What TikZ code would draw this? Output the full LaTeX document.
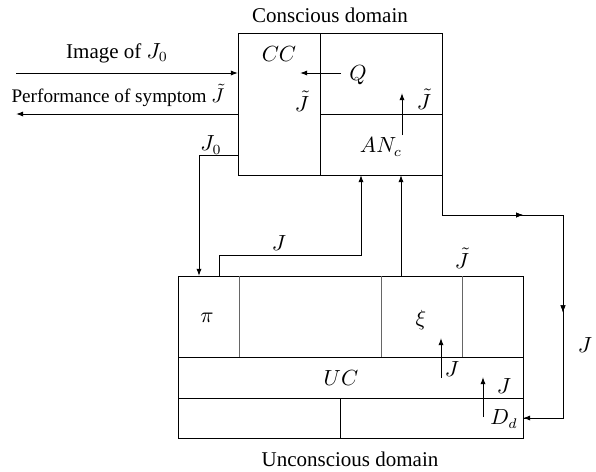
\documentclass[tikz,border=0pt]{standalone}
\usepackage{fontspec}
\setmainfont{Liberation Serif}
\usetikzlibrary{arrows.meta,decorations.markings}
\begin{document}
\begin{tikzpicture}[x=0.5pt,y=-0.5pt,
  line width=0.5pt,
  font=\fontsize{10.5}{12}\selectfont,
  tip/.style={-{Latex[length=3.6pt,width=2.6pt]}},
  midtip/.style={postaction={decorate},decoration={markings,
     mark=at position #1 with {\arrow{Latex[length=3.6pt,width=2.6pt]}}}},
  divider/.style={draw=black!60},
  lbl/.style={inner sep=1pt}]
\useasboundingbox (0,0) rectangle (596,472);

% conscious domain box
\coordinate (cTL) at (238,33);
\coordinate (cBR) at (442,175);
\draw (cTL) rectangle (cBR);
\draw (320,33) -- (320,175);
\draw (320,114) -- (442,114);

% unconscious domain box
\coordinate (uTL) at (178,276);
\coordinate (uBR) at (523,438);
\draw (uTL) rectangle (uBR);
\draw (178,357) -- (523,357);
\draw (178,398) -- (523,398);
\draw[divider] (239,276) -- (239,357);
\draw[divider] (381,276) -- (381,357);
\draw[divider] (462,276) -- (462,357);
\draw (340,398) -- (340,438);

% titles
\node[lbl] (tc) at (330,15) {Conscious domain};
\node[lbl] (tu) at (350,459) {Unconscious domain};

% external arrows
\coordinate (imgS) at (16,73);
\coordinate (imgE) at (238,73);
\draw[tip] (imgS) -- (imgE);
\node[lbl] (limg) at (117,53) {Image of $J_0$};
\coordinate (perfS) at (238,114);
\coordinate (perfE) at (16,114);
\draw[tip] (perfS) -- (perfE);
\node[lbl,font=\fontsize{9.6}{11}\selectfont] (lperf) at (118,95) {Performance of symptom $\tilde{J}$};

% J0 from conscious to pi
\coordinate (j0a) at (238,155);
\coordinate (j0b) at (199,155);
\coordinate (j0c) at (199,276);
\draw[tip] (j0a) -- (j0b) -- (j0c);
\node[lbl] (lj0) at (211,145) {$J_0$};

% inside conscious box
\node[lbl] (cc) at (279,54) {$CC$};
\node[lbl] (jt1) at (302,101) {$\tilde{J}$};
\node[lbl] (q) at (358,75) {$Q$};
\coordinate (qS) at (341,73);
\coordinate (qE) at (300,73);
\draw[tip] (qS) -- (qE);
\node[lbl] (jt2) at (424,99) {$\tilde{J}$};
\coordinate (anS) at (402,135);
\coordinate (anE) at (402,93);
\draw[tip] (anS) -- (anE);
\node[lbl] (anc) at (381,147) {$AN_c$};

% J from pi up to AN_c
\coordinate (jA) at (219,276);
\coordinate (jB) at (219,255);
\coordinate (jC) at (361,255);
\coordinate (jD) at (361,175);
\draw[tip] (jA) -- (jB) -- (jC) -- (jD);
\node[lbl] (lj) at (279,243) {$J$};

% J tilde from xi up to AN_c
\coordinate (xA) at (401,276);
\coordinate (xB) at (401,175);
\draw[tip] (xA) -- (xB);
\node[lbl] (jt3) at (462,258) {$\tilde{J}$};

% loop on the right down to D_d
\coordinate (rA) at (442,175);
\coordinate (rB) at (442,215);
\coordinate (rC) at (563,215);
\coordinate (rD) at (563,418);
\coordinate (rE) at (523,418);
\draw[midtip=0.30,midtip=0.64] (rA) -- (rB) -- (rC) -- (rD) -- (rE);
\draw[tip] (rD) -- (rE);
\node[lbl] (lr) at (585,345) {$J$};

% inside unconscious box
\node[lbl] (pi) at (207,318) {$\pi$};
\node[lbl] (uc) at (341,378) {$UC$};
\node[lbl] (xi) at (421,320) {$\xi$};
\coordinate (k1S) at (441,378);
\coordinate (k1E) at (441,338);
\draw[tip] (k1S) -- (k1E);
\node[lbl] (lk1) at (452,369) {$J$};
\coordinate (k2S) at (483,417);
\coordinate (k2E) at (483,377);
\draw[tip] (k2S) -- (k2E);
\node[lbl] (lk2) at (504,386) {$J$};
\node[lbl] (dd) at (504,419) {$D_d$};
\end{tikzpicture}
\end{document}
